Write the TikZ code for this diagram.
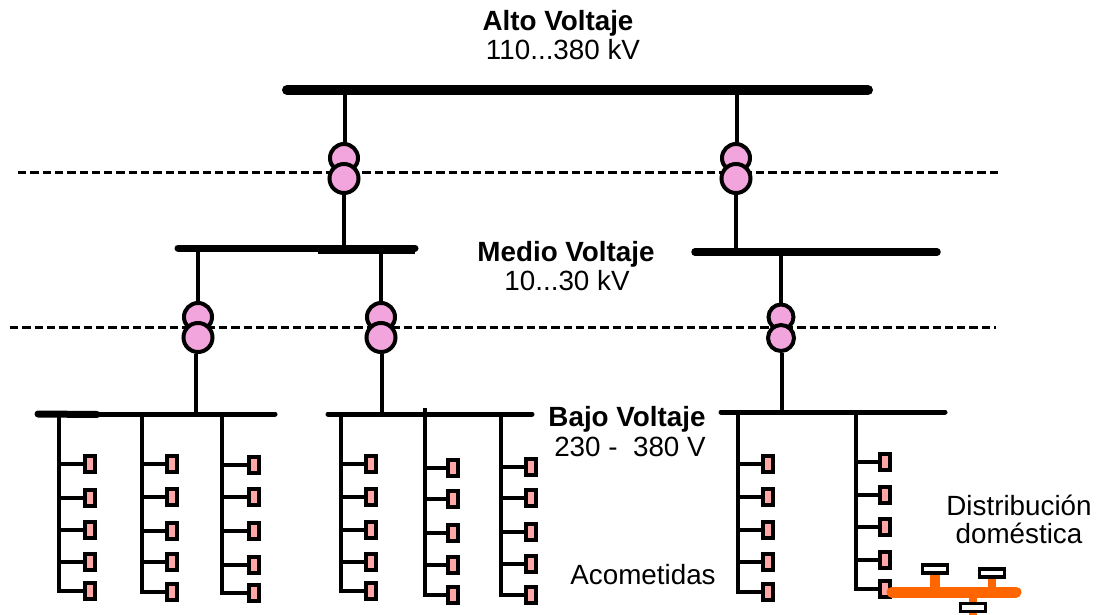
\documentclass[tikz,border=0pt]{standalone}
\usepackage{fontspec}
\setmainfont{Liberation Sans}
\definecolor{xfmr}{HTML}{F2A5DC}
\definecolor{term}{HTML}{FFA6A6}
\definecolor{house}{HTML}{FF6600}
\tikzset{
  busline/.style={line width=#1,line cap=round},
  wire/.style={line width=3.2pt},
  dashline/.style={line width=3pt,dash pattern=on 8.3pt off 4pt},
  coil/.style={circle,draw,fill=xfmr,line width=4pt,inner sep=0pt,minimum size=#1},
  termbox/.style={draw,fill=term,line width=3.6pt,inner sep=0pt,minimum width=10.5pt,minimum height=16.5pt},
  homebox/.style={draw,fill=white,line width=3.2pt,inner sep=0pt,minimum width=25pt,minimum height=8pt},
  homeline/.style={draw=house,line width=#1},
  lab/.style={font=\fontsize{27.8}{28}\selectfont,inner sep=0pt,align=center},
  blab/.style={lab,font=\fontsize{27.8}{28}\selectfont\bfseries}
}
\newcommand{\feeder}[8]{%
  \coordinate (#1-top) at (#2,#4);
  \node[termbox] (#1-a) at (#3,#5) {};
  \node[termbox] (#1-b) at (#3,#6) {};
  \node[termbox] (#1-c) at (#3,#7) {};
  \node[termbox] (#1-d) at (#3,#8) {};
  \feederend{#1}{#3}
}
\newcommand{\feederend}[3]{%
  \node[termbox] (#1-e) at (#2,#3) {};
  \draw[wire] (#1-top) -- (#1-top |- #1-e) -- (#1-e);
  \foreach \k in {a,b,c,d} \draw[wire] (#1-top |- #1-\k) -- (#1-\k);
}
\begin{document}
\begin{tikzpicture}[x=1pt,y=-1pt]
\useasboundingbox (0,0) rectangle (1098,615);

% dashed separators
\coordinate (d1l) at (18,173); \coordinate (d1r) at (1001,173);
\coordinate (d2l) at (10,327); \coordinate (d2r) at (996,327);
\draw[dashline] (d1l) -- (d1r);
\draw[dashline] (d2l) -- (d2r);

% bus anchors
\coordinate (hv) at (345,90);
\coordinate (hvb) at (737,90);
\coordinate (mva) at (345,248);
\coordinate (mvb) at (737,252);

% transformers
\node[coil=28pt] (t1u) at (344,158) {}; \node[coil=29pt] (t1l) at (344,178.5) {};
\node[coil=28pt] (t2u) at (736,158) {}; \node[coil=29pt] (t2l) at (736,178.5) {};
\node[coil=28pt] (t3u) at (198,317) {}; \node[coil=29pt] (t3l) at (198,337.5) {};
\node[coil=28pt] (t4u) at (381,317) {}; \node[coil=29pt] (t4l) at (381,337.5) {};
\node[coil=25pt] (t5u) at (781,317) {}; \node[coil=26pt] (t5l) at (781,338) {};

% buses
\coordinate (hv1) at (287,90); \coordinate (hv2) at (868,90);
\draw[busline=10pt] (hv1) -- (hv2);
\coordinate (m1) at (178,248); \coordinate (m2) at (415,248);
\draw[busline=7pt] (m1) -- (m2);
\coordinate (m3) at (318,250); \coordinate (m4) at (415,250);
\draw[line width=7pt] (m3) -- (m4);
\coordinate (m5) at (695,252); \coordinate (m6) at (937,252);
\draw[busline=7.5pt] (m5) -- (m6);
\coordinate (b1) at (38,414); \coordinate (b2) at (275,414);
\draw[busline=5pt] (b1) -- (b2);
\coordinate (b1t) at (97,414.5);
\draw[busline=7pt] (b1) -- (b1t);
\coordinate (b3) at (328,414); \coordinate (b4) at (532,414);
\draw[busline=5pt] (b3) -- (b4);
\coordinate (b5) at (721,412); \coordinate (b6) at (945,412);
\draw[busline=5pt] (b5) -- (b6);

% risers
\draw[wire] (hv) -- (hv |- t1u.north);
\draw[wire] (hvb) -- (hvb |- t2u.north);
\draw[wire] (t1l.south) -- (t1l.south |- mva);
\draw[wire] (t2l.south) -- (t2l.south |- mvb);
\draw[wire] (t3u.north) -- (t3u.north |- m1);
\draw[wire] (t4u.north) -- (t4u.north |- m1);
\draw[wire] (t5u.north) -- (t5u.north |- m5);
\coordinate (r3) at (196,414); \coordinate (r4) at (382,414); \coordinate (r5) at (782,412);
\draw[wire] (t3l.south -| r3) -- (r3);
\draw[wire] (t4l.south -| r4) -- (r4);
\draw[wire] (t5l.south -| r5) -- (r5);

% feeders
\feeder{fa}{59}{90}{414}{464}{498}{530}{562}{591}
\feeder{fb}{142}{172}{414}{464}{497}{531}{562}{592}
\feeder{fc}{222}{254}{414}{465}{497}{531}{565}{593}
\feeder{fd}{341}{371}{414}{464}{497}{530}{562}{591}
\feeder{fe}{425}{453}{408}{468}{499}{533}{565}{595}
\feeder{ff}{501}{531}{414}{467}{498}{532}{564}{595}
\feeder{fg}{738}{768}{412}{464}{497}{530}{562}{592}
\feeder{fh}{856}{885}{412}{462}{495}{527}{560}{589}

% domestic distribution
\coordinate (o1) at (892,592); \coordinate (o2) at (1016,592);
\node[homebox] (h1) at (935,569) {};
\node[homebox] (h2) at (992,573) {};
\coordinate (o3) at (973,615);
\draw[homeline=8pt] (h2.south) -- (h2.south |- o1);
\draw[homeline=10pt] (h1.south) -- (h1.south |- o1);
\draw[homeline=8pt] (o3 |- o1) -- (o3);
\node[homebox] (h3) at (973,607.5) {};
\draw[homeline=11pt,line cap=round] (o1) -- (o2);

% labels
\node[blab] (altoL) at (558,23) {Alto Voltaje};
\node[lab] (altoV) at (563,50) {110...380 kV};
\node[blab] (medL) at (566,254) {Medio Voltaje};
\node[lab] (medV) at (567,281) {10...30 kV};
\node[blab] (bajL) at (627,419) {Bajo Voltaje};
\node[lab] (bajV) at (630,447) {230 -\ \ 380 V};
\node[lab] (acom) at (643,575) {Acometidas};
\node[lab] (dist) at (1019,519) {Distribución\\doméstica};
\end{tikzpicture}
\end{document}
